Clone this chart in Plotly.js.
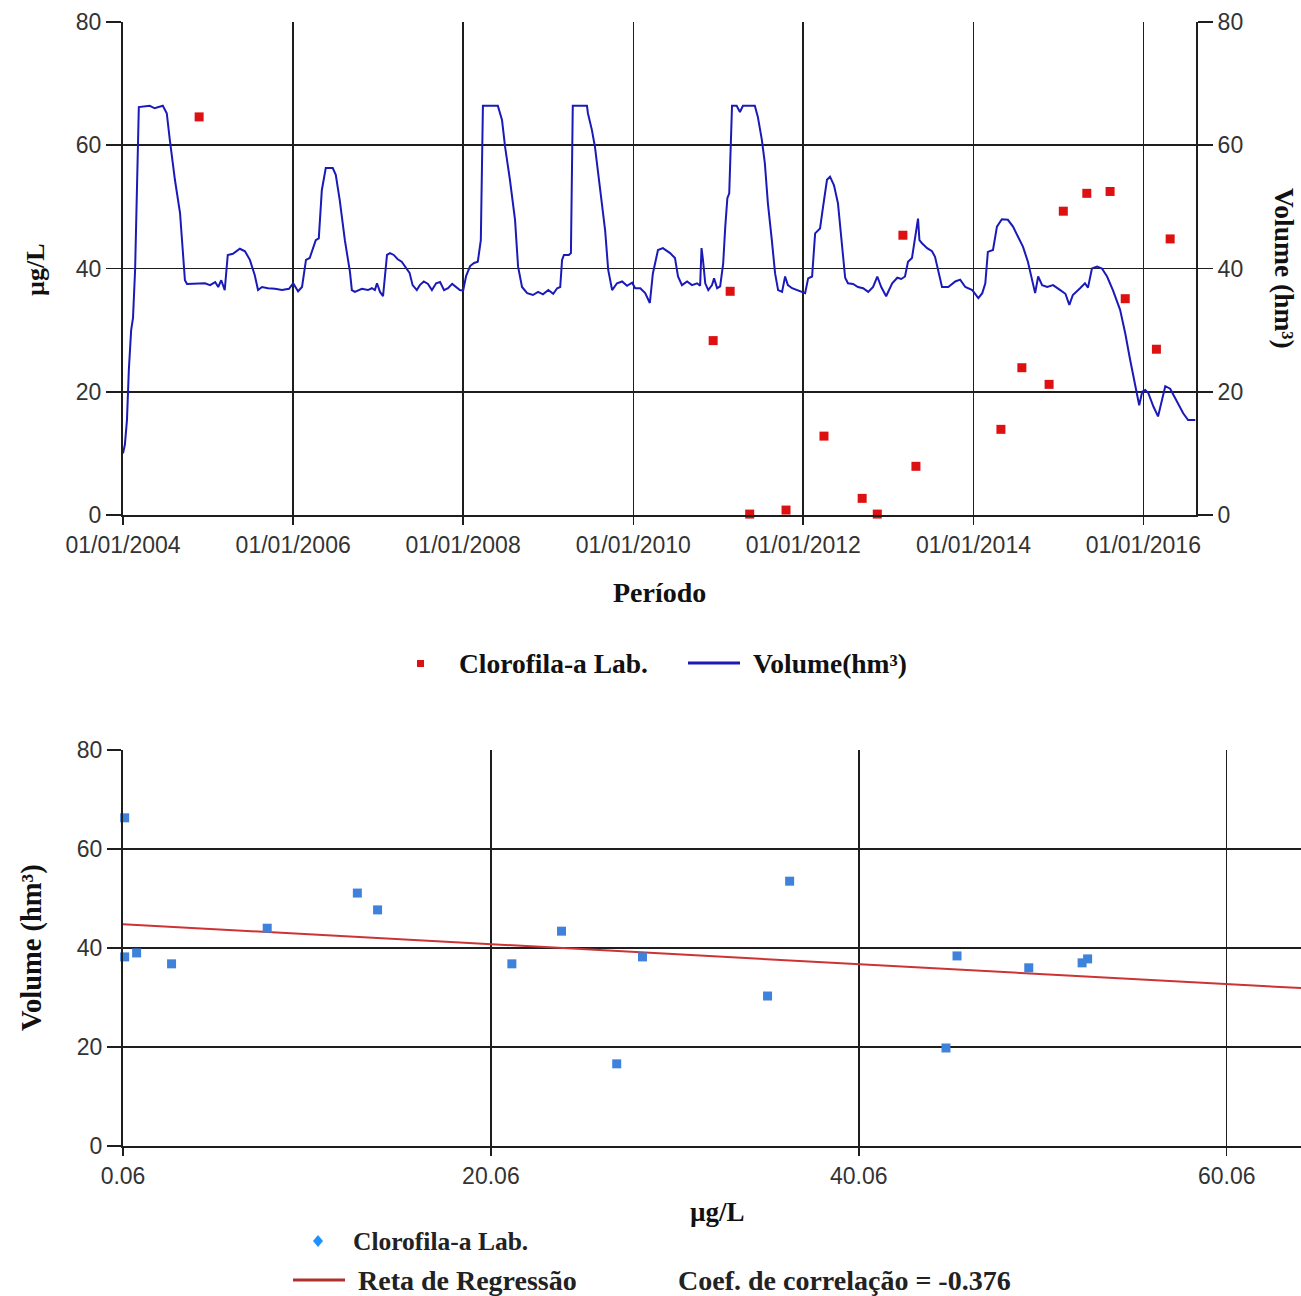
<!DOCTYPE html>
<html>
<head>
<meta charset="utf-8">
<script src="https://cdn.plot.ly/plotly-3.0.1.min.js"></script>
<style>
html, body { margin: 0; padding: 0; background: #ffffff; }
#chart { width: 1301px; height: 1296px; }
</style>
</head>
<body>
<div id="chart"></div>
<script>
// ---------- DATA ----------
const volumeDates = [
'2004-01-01','2004-01-09','2004-01-18','2004-01-26','2004-02-05','2004-02-13','2004-02-22','2004-03-01','2004-03-09','2004-04-25',
'2004-05-16','2004-06-20','2004-07-07','2004-07-20','2004-08-11','2004-09-02','2004-09-15','2004-09-23','2004-10-02','2004-11-06',
'2004-12-18','2005-01-09','2005-01-31','2005-02-13','2005-02-26','2005-03-13','2005-03-26','2005-04-17','2005-05-17','2005-06-08',
'2005-06-29','2005-07-20','2005-08-03','2005-08-20','2005-09-15','2005-10-15','2005-11-14','2005-12-14','2006-01-01','2006-01-22',
'2006-02-08','2006-02-25','2006-03-13','2006-04-08','2006-04-21','2006-05-04','2006-05-21','2006-06-20','2006-07-03','2006-07-20',
'2006-08-11','2006-09-02','2006-09-10','2006-09-23','2006-10-23','2006-11-18','2006-12-05','2006-12-18','2006-12-27','2007-01-09',
'2007-01-22','2007-02-08','2007-02-21','2007-03-09','2007-03-26','2007-04-12','2007-04-29','2007-05-16','2007-05-29','2007-06-16',
'2007-06-29','2007-07-16','2007-08-03','2007-08-20','2007-09-07','2007-09-24','2007-10-11','2007-10-28','2007-11-15','2007-12-01',
'2007-12-18','2008-01-01','2008-01-14','2008-01-31','2008-02-17','2008-03-04','2008-03-17','2008-03-26','2008-05-29','2008-06-16',
'2008-06-29','2008-07-20','2008-08-11','2008-08-24','2008-09-10','2008-10-02','2008-10-27','2008-11-18','2008-12-09','2009-01-01',
'2009-01-22','2009-02-08','2009-02-21','2009-03-01','2009-03-09','2009-03-30','2009-04-08','2009-04-16','2009-06-16','2009-06-20',
'2009-07-07','2009-07-20','2009-08-11','2009-09-02','2009-09-15','2009-10-02','2009-10-23','2009-11-14','2009-12-05','2009-12-27',
'2010-01-09','2010-01-31','2010-02-21','2010-03-13','2010-03-26','2010-04-17','2010-05-08','2010-06-08','2010-06-29','2010-07-12',
'2010-07-29','2010-08-20','2010-09-10','2010-10-02','2010-10-15','2010-10-21','2010-10-27','2010-11-06','2010-11-19','2010-12-05',
'2010-12-14','2010-12-27','2011-01-09','2011-01-22','2011-01-31','2011-02-09','2011-02-17','2011-03-01','2011-03-21','2011-04-04',
'2011-04-17','2011-06-07','2011-06-20','2011-07-07','2011-07-20','2011-08-02','2011-08-19','2011-09-02','2011-09-15','2011-10-02',
'2011-10-15','2011-10-27','2011-11-14','2011-12-05','2011-12-27','2012-01-09','2012-01-22','2012-02-08','2012-02-21','2012-03-13',
'2012-03-26','2012-04-12','2012-04-25','2012-05-12','2012-05-29','2012-06-16','2012-06-29','2012-07-11','2012-08-02','2012-08-23',
'2012-09-14','2012-10-06','2012-10-27','2012-11-14','2012-12-01','2012-12-22','2013-01-17','2013-02-08','2013-02-25','2013-03-13',
'2013-03-26','2013-04-12','2013-04-25','2013-05-08','2013-05-14','2013-05-25','2013-06-16','2013-07-07','2013-07-20','2013-08-02',
'2013-08-19','2013-09-15','2013-10-15','2013-11-05','2013-11-27','2013-12-27','2014-01-22','2014-02-08','2014-02-21','2014-03-04',
'2014-03-26','2014-04-12','2014-05-03','2014-05-29','2014-06-20','2014-07-11','2014-08-02','2014-08-23','2014-09-10','2014-09-23',
'2014-10-06','2014-10-23','2014-11-14','2014-12-09','2015-01-09','2015-01-31','2015-02-17','2015-03-04','2015-04-04','2015-04-25',
'2015-05-08','2015-05-25','2015-06-16','2015-07-07','2015-07-29','2015-08-23','2015-09-23','2015-10-15','2015-11-05','2015-11-27',
'2015-12-14','2015-12-27','2016-01-09','2016-01-22','2016-02-13','2016-03-04','2016-03-21','2016-04-04','2016-04-25','2016-05-25',
'2016-06-20','2016-07-11','2016-08-11'
];
const volumeValues = [
10.0, 11.4, 15.4, 23.5, 30.0, 32.0, 39.8, 54.4, 66.2, 66.4,
66.0, 66.4, 65.2, 60.9, 54.4, 49.0, 43.0, 38.1, 37.5, 37.5,
37.6, 37.3, 37.8, 37.0, 38.1, 36.5, 42.2, 42.4, 43.2, 42.8,
41.4, 38.9, 36.5, 37.0, 36.8, 36.7, 36.5, 36.7, 37.6, 36.3,
37.0, 41.4, 41.7, 44.6, 44.9, 52.7, 56.3, 56.3, 55.2, 51.1,
44.6, 39.4, 36.5, 36.2, 36.7, 36.5, 36.8, 36.5, 37.6, 36.2,
35.5, 42.2, 42.5, 42.2, 41.5, 41.1, 40.1, 39.3, 37.3, 36.5,
37.3, 37.9, 37.5, 36.5, 37.6, 37.8, 36.5, 36.8, 37.5, 37.0,
36.5, 36.4, 38.8, 40.4, 40.9, 41.1, 44.6, 66.4, 66.4, 64.1,
59.8, 54.4, 47.9, 40.3, 37.0, 36.0, 35.7, 36.2, 35.8, 36.5,
35.9, 36.8, 37.0, 41.4, 42.2, 42.2, 42.5, 66.4, 66.4, 65.2,
62.5, 59.8, 52.7, 46.2, 39.8, 36.5, 37.6, 37.9, 37.2, 37.7,
36.8, 36.8, 36.0, 34.4, 39.2, 43.0, 43.3, 42.5, 41.7, 38.7,
37.3, 37.9, 37.3, 37.6, 37.2, 43.3, 41.5, 37.6, 36.5, 37.3,
38.4, 36.8, 37.1, 40.8, 46.8, 51.4, 52.2, 66.4, 66.4, 65.4,
66.4, 66.4, 64.6, 60.9, 57.1, 50.6, 44.6, 39.2, 36.5, 36.2,
38.7, 37.3, 36.8, 36.5, 36.2, 36.0, 38.4, 38.7, 45.7, 46.5,
50.0, 54.4, 54.9, 53.5, 50.6, 44.0, 38.5, 37.6, 37.5, 37.0,
36.8, 36.2, 37.0, 38.7, 37.0, 35.5, 37.6, 38.5, 38.3, 38.7,
41.1, 41.7, 45.2, 48.1, 44.6, 44.1, 43.3, 42.8, 41.9, 39.8,
37.0, 37.0, 37.9, 38.2, 37.0, 36.5, 35.2, 36.0, 37.6, 42.7,
43.0, 46.8, 48.0, 47.9, 46.8, 45.2, 43.5, 41.1, 38.1, 36.0,
38.7, 37.3, 37.0, 37.3, 36.5, 35.9, 34.1, 35.7, 36.8, 37.6,
36.9, 40.0, 40.3, 40.0, 38.7, 36.5, 33.3, 29.5, 25.2, 20.8,
17.8, 20.0, 20.3, 19.8, 17.6, 16.0, 18.7, 20.9, 20.5, 18.4,
16.5, 15.4, 15.4
];

// Clorofila-a lab samples (date, µg/L) and the reservoir volume at each sample date (hm³)
const sampleDates = ['2004-11-23','2010-12-10','2011-02-21','2011-05-16','2011-10-19','2012-03-30','2012-09-10','2012-11-14','2013-03-04','2013-04-29',
                     '2014-04-29','2014-07-28','2014-11-22','2015-01-22','2015-05-03','2015-08-11','2015-10-15','2016-02-26','2016-04-25'];
const chlorophyll = [64.6, 28.3, 36.3, 0.15, 0.8, 12.8, 2.7, 0.15, 45.4, 7.9,
                     13.9, 23.9, 21.2, 49.3, 52.2, 52.5, 35.1, 26.9, 44.8];
const sampleVolume = [37.5, 38.2, 53.5, 66.3, 39.0, 51.1, 36.8, 38.2, 38.4, 44.0,
                      47.7, 43.4, 36.8, 36.0, 37.0, 37.8, 30.3, 16.6, 19.8];

// Regression line end points (µg/L, hm³)
const regressionX = [0.06, 64.1];
const regressionY = [44.8, 31.9];
const correlationCoef = -0.376;

// Tick labels
const dateTickVals = ['2004-01-01','2006-01-01','2008-01-01','2010-01-01','2012-01-01','2014-01-01','2016-01-01'];
const dateTickText = ['01/01/2004','01/01/2006','01/01/2008','01/01/2010','01/01/2012','01/01/2014','01/01/2016'];
const valueTicks = [0, 20, 40, 60, 80];
const chlTickVals = [0.06, 20.06, 40.06, 60.06];
const chlTickText = ['0.06', '20.06', '40.06', '60.06'];

// Labels
const seriesChl = 'Clorofila-a Lab.';
const seriesVol = 'Volume(hm³)';
const seriesReg = 'Reta de Regressão';

// ---------- STYLE ----------
const W = 1301, H = 1296;
const px = v => v / W;
const py = v => 1 - v / H;
const tickFont = { family: 'Liberation Sans, Arial, sans-serif', size: 23, color: '#333333' };
const serif = 'Liberation Serif, Times New Roman, serif';
const gridC = '#1e1e1e';
const axisBase = {
  showline: true, linecolor: gridC, linewidth: 2,
  showgrid: true, gridcolor: gridC, gridwidth: 1.6,
  ticks: 'outside', tickcolor: gridC, tickwidth: 1.6,
  zeroline: false, tickfont: tickFont, fixedrange: true
};

const traces = [
  {
    x: volumeDates, y: volumeValues, xaxis: 'x', yaxis: 'y2',
    type: 'scatter', mode: 'lines', name: seriesVol,
    line: { color: '#1a1ab8', width: 2 }, showlegend: false
  },
  {
    x: sampleDates, y: chlorophyll, xaxis: 'x', yaxis: 'y',
    type: 'scatter', mode: 'markers', name: seriesChl, cliponaxis: false,
    marker: { symbol: 'square', size: 9, color: '#dd1111' }, showlegend: false
  },
  {
    x: regressionX, y: regressionY, xaxis: 'x2', yaxis: 'y3',
    type: 'scatter', mode: 'lines', name: seriesReg,
    line: { color: '#cc3333', width: 2 }, showlegend: false
  },
  {
    x: chlorophyll, y: sampleVolume, xaxis: 'x2', yaxis: 'y3',
    type: 'scatter', mode: 'markers', name: seriesChl, cliponaxis: false,
    marker: { symbol: 'square', size: 9, color: '#3f82dc' }, showlegend: false
  }
];

const layout = {
  width: W, height: H,
  margin: { l: 0, r: 0, t: 0, b: 0, pad: 0 },
  paper_bgcolor: '#ffffff', plot_bgcolor: '#ffffff',
  showlegend: false,
  xaxis: Object.assign({}, axisBase, {
    type: 'date', domain: [px(123), px(1196)], anchor: 'y',
    range: ['2004-01-01', '2016-08-14'],
    tickmode: 'array', tickvals: dateTickVals, ticktext: dateTickText, ticklen: 8
  }),
  yaxis: Object.assign({}, axisBase, {
    domain: [py(515), py(22)], anchor: 'x', range: [0, 80],
    tickmode: 'array', tickvals: valueTicks, ticklen: 15
  }),
  yaxis2: Object.assign({}, axisBase, {
    overlaying: 'y', side: 'right', anchor: 'x', range: [0, 80],
    tickmode: 'array', tickvals: valueTicks, ticklen: 15, showgrid: false
  }),
  xaxis2: Object.assign({}, axisBase, {
    domain: [px(123), 1], anchor: 'y3', range: [0.06, 64.1],
    tickmode: 'array', tickvals: chlTickVals, ticktext: chlTickText, ticklen: 8
  }),
  yaxis3: Object.assign({}, axisBase, {
    domain: [py(1146), py(750)], anchor: 'x2', range: [0, 80],
    tickmode: 'array', tickvals: valueTicks, ticklen: 14
  }),
  annotations: [
    // axis titles
    { text: '<b>µg/L</b>', xref: 'paper', yref: 'paper', x: px(35), y: py(270), textangle: -90,
      showarrow: false, xanchor: 'center', yanchor: 'middle', font: { family: serif, size: 26, color: '#111' } },
    { text: '<b>Volume (hm³)</b>', xref: 'paper', yref: 'paper', x: px(1285), y: py(268), textangle: 90,
      showarrow: false, xanchor: 'center', yanchor: 'middle', font: { family: serif, size: 27.5, color: '#111' } },
    { text: '<b>Período</b>', xref: 'paper', yref: 'paper', x: px(659), y: py(592),
      showarrow: false, xanchor: 'center', yanchor: 'middle', font: { family: serif, size: 28, color: '#111' } },
    { text: '<b>Volume (hm³)</b>', xref: 'paper', yref: 'paper', x: px(32), y: py(948), textangle: -90,
      showarrow: false, xanchor: 'center', yanchor: 'middle', font: { family: serif, size: 28.5, color: '#111' } },
    { text: '<b>µg/L</b>', xref: 'paper', yref: 'paper', x: px(717), y: py(1212),
      showarrow: false, xanchor: 'center', yanchor: 'middle', font: { family: serif, size: 27, color: '#111' } },
    // top legend
    { text: '<b>' + seriesChl + '</b>', xref: 'paper', yref: 'paper', x: px(457), y: py(663),
      showarrow: false, xanchor: 'left', yanchor: 'middle', font: { family: serif, size: 27.5, color: '#111' } },
    { text: '<b>' + seriesVol + '</b>', xref: 'paper', yref: 'paper', x: px(751), y: py(663),
      showarrow: false, xanchor: 'left', yanchor: 'middle', font: { family: serif, size: 27.5, color: '#111' } },
    // bottom legend
    { text: '<b>' + seriesChl + '</b>', xref: 'paper', yref: 'paper', x: px(351), y: py(1241),
      showarrow: false, xanchor: 'left', yanchor: 'middle', font: { family: serif, size: 25.5, color: '#222' } },
    { text: '<b>' + seriesReg + '</b>', xref: 'paper', yref: 'paper', x: px(356), y: py(1280),
      showarrow: false, xanchor: 'left', yanchor: 'middle', font: { family: serif, size: 28, color: '#222' } },
    { text: '<b>Coef. de correlação = ' + correlationCoef.toFixed(3) + '</b>', xref: 'paper', yref: 'paper', x: px(676), y: py(1280),
      showarrow: false, xanchor: 'left', yanchor: 'middle', font: { family: serif, size: 28, color: '#222' } }
  ],
  shapes: [
    // top legend symbols
    { type: 'rect', xref: 'paper', yref: 'paper', x0: px(417), x1: px(424), y0: py(667), y1: py(660),
      fillcolor: '#dd1111', line: { width: 0 } },
    { type: 'line', xref: 'paper', yref: 'paper', x0: px(688), x1: px(740), y0: py(663), y1: py(663),
      line: { color: '#1a1ab8', width: 3 } },
    // bottom legend symbols
    { type: 'path', xref: 'paper', yref: 'paper',
      path: 'M ' + px(318) + ' ' + py(1235) + ' L ' + px(323) + ' ' + py(1241) + ' L ' + px(318) + ' ' + py(1247) + ' L ' + px(313) + ' ' + py(1241) + ' Z',
      fillcolor: '#1e90ff', line: { width: 0 } },
    { type: 'line', xref: 'paper', yref: 'paper', x0: px(293), x1: px(345), y0: py(1280), y1: py(1280),
      line: { color: '#b03030', width: 3 } }
  ]
};

Plotly.newPlot('chart', traces, layout, { displayModeBar: false, staticPlot: true });
</script>
</body>
</html>
